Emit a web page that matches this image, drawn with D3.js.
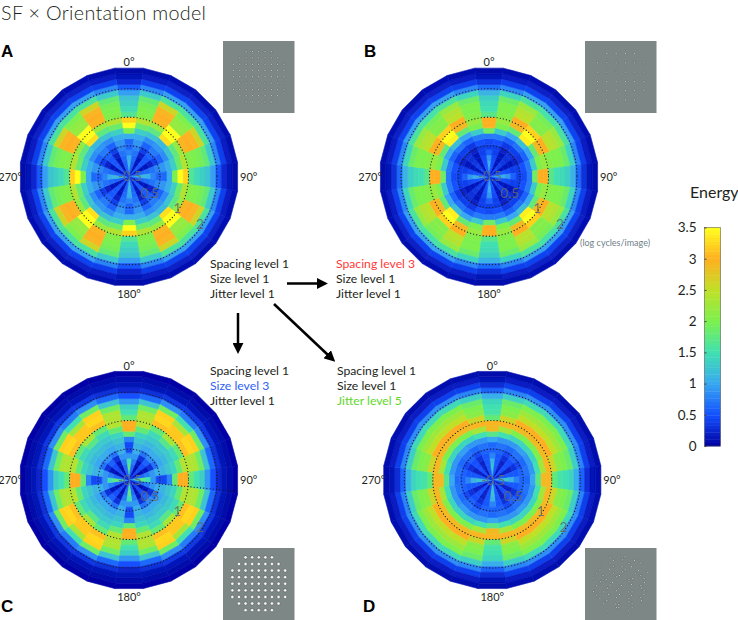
<!DOCTYPE html>
<html>
<head>
<meta charset="utf-8">
<script src="https://cdnjs.cloudflare.com/ajax/libs/d3/7.8.5/d3.min.js"></script>
<style>
  html, body { margin: 0; padding: 0; background: #fff; }
  svg { display: block; }
  text { font-family: "Lato", "Open Sans", sans-serif; fill: #231f20; }
  .angle { font-size: 11px; }
  .level { font-size: 12.2px; }
  .radial { font-size: 13.5px; fill: #5f6b70; opacity: 0.85; }
  .letter { font-size: 17px; font-weight: 700; fill: #000; font-family: "Liberation Sans", sans-serif; }
</style>
</head>
<body>
<div id="graphic"></div>
<script>
var width = 738;
var height = 620;

// energy per ring (centre to edge), for orientations 0, 15, 30, 45 deg from the nearest cardinal
var panelA = [
  [0.9, 1.1, 1.15, 1.05, 0.8, 0.6, 0.65, 1.05, 2.0, 3.5, 3.2, 1.65, 1.45, 1.35, 1.25, 0.95, 0.55, 0.25, 0.12, 0.06],
  [0.6, 0.6, 0.6, 0.65, 0.7, 0.8, 0.9, 1.05, 1.35, 1.85, 2.4, 2.05, 2.0, 1.95, 1.8, 1.3, 0.8, 0.4, 0.18, 0.08],
  [0.15, 0.15, 0.15, 0.15, 0.2, 0.4, 0.6, 0.85, 1.25, 1.75, 2.2, 2.95, 3.0, 2.95, 2.6, 1.6, 0.95, 0.42, 0.2, 0.1],
  [0.55, 0.55, 0.55, 0.55, 0.55, 0.6, 0.75, 0.9, 1.15, 3.3, 3.5, 3.5, 2.2, 2.15, 2.0, 1.6, 0.95, 0.42, 0.2, 0.08]
];
var panelB = [
  [0.9, 1.0, 1.05, 0.9, 0.6, 0.4, 0.45, 0.75, 1.9, 3.0, 3.0, 1.7, 1.5, 1.45, 1.35, 1.1, 0.65, 0.3, 0.12, 0.06],
  [0.55, 0.55, 0.5, 0.45, 0.4, 0.4, 0.5, 0.75, 1.3, 2.0, 2.2, 2.05, 2.0, 2.0, 1.85, 1.4, 0.8, 0.4, 0.18, 0.08],
  [0.15, 0.15, 0.15, 0.15, 0.15, 0.2, 0.35, 0.6, 1.0, 1.8, 2.9, 3.0, 2.45, 2.4, 2.2, 1.6, 0.95, 0.42, 0.2, 0.1],
  [0.45, 0.45, 0.4, 0.35, 0.3, 0.3, 0.4, 0.7, 1.2, 3.4, 3.5, 3.2, 2.05, 2.05, 1.95, 1.55, 0.95, 0.42, 0.2, 0.08]
];
var panelC = [
  [1.0, 1.6, 1.75, 1.5, 0.9, 0.45, 0.45, 0.8, 1.8, 3.0, 3.0, 1.8, 1.5, 1.35, 0.9, 0.5, 0.25, 0.12, 0.06, 0.03],
  [0.55, 0.6, 0.65, 0.75, 0.9, 1.05, 1.1, 1.25, 1.4, 1.8, 2.4, 2.4, 2.35, 1.9, 1.25, 0.65, 0.3, 0.12, 0.06, 0.03],
  [0.1, 0.1, 0.1, 0.15, 0.3, 0.7, 1.0, 1.15, 1.3, 1.45, 1.8, 3.1, 3.25, 3.2, 1.9, 0.85, 0.35, 0.14, 0.06, 0.03],
  [0.45, 0.45, 0.45, 0.5, 0.6, 0.85, 1.05, 1.2, 1.3, 1.7, 2.3, 3.15, 3.15, 2.3, 1.5, 0.75, 0.35, 0.14, 0.06, 0.03]
];
var panelD = [
  [1.0, 1.2, 1.25, 1.1, 0.8, 0.6, 0.65, 1.0, 1.7, 2.9, 2.95, 1.8, 1.55, 1.5, 1.4, 1.05, 0.6, 0.28, 0.12, 0.06],
  [0.55, 0.55, 0.55, 0.55, 0.55, 0.6, 0.7, 0.9, 1.5, 2.3, 2.95, 2.6, 2.1, 2.0, 1.85, 1.35, 0.8, 0.4, 0.18, 0.08],
  [0.15, 0.15, 0.2, 0.2, 0.3, 0.45, 0.65, 0.9, 1.4, 2.0, 2.9, 3.0, 2.5, 2.25, 2.0, 1.45, 0.85, 0.4, 0.18, 0.08],
  [0.5, 0.5, 0.5, 0.5, 0.5, 0.6, 0.7, 0.95, 1.4, 2.0, 2.9, 3.0, 2.5, 2.25, 2.0, 1.45, 0.85, 0.4, 0.18, 0.08]
];

var angleLabels = ["0°", "90°", "180°", "270°"];
var radialTicks = [0.5, 1, 2];
var energyTicks = [0, 0.5, 1, 1.5, 2, 2.5, 3, 3.5];
var colorStops = ["#0000a0", "#1450ff", "#38a8f0", "#40e0b0", "#7cf04e", "#c0e028", "#ffb020", "#ffff1e"];

// stimulus dots per row
var rowsDense = [5, 7, 9, 9, 9, 9, 9, 7, 5];
var rowsSparse = [4, 6, 6, 6, 6, 4];
// dot offsets of the jittered stimulus, in grid units
var jitterD = [
  [0.3, -0.2], [-0.2, 0.3], [0.3, 0.2], [-0.3, -0.3], [0.2, 0.3],
  [-0.3, 0.2], [0.3, -0.3], [-0.2, 0.2], [0.2, 0.3], [0.3, -0.2], [-0.3, 0.3], [0.2, -0.3],
  [0.2, 0.3], [-0.3, -0.2], [0.2, -0.3], [-0.2, 0.3], [0.3, 0.1], [-0.3, -0.3], [0.3, 0.3], [-0.2, -0.1], [0.3, 0.2],
  [-0.3, 0.1], [0.2, -0.3], [-0.3, 0.3], [0.3, -0.1], [-0.2, -0.3], [0.3, 0.3], [-0.1, 0.2], [0.2, -0.3], [-0.3, 0.2],
  [0.2, 0.3], [-0.2, -0.3], [0.3, 0.2], [-0.3, -0.2], [0.1, 0.3], [0.3, -0.3], [-0.3, 0.1], [0.2, 0.3], [-0.2, -0.2],
  [-0.3, 0.2], [0.3, 0.3], [-0.1, -0.3], [0.3, 0.1], [-0.3, -0.2], [0.2, 0.3], [-0.2, 0.3], [0.3, -0.3], [-0.3, 0.1],
  [0.2, -0.2], [-0.3, 0.3], [0.1, -0.3], [0.3, 0.2], [-0.2, -0.3], [0.3, 0.3], [-0.3, -0.1], [0.2, 0.2], [-0.3, -0.3],
  [0.3, 0.2], [-0.2, -0.3], [0.2, 0.2], [-0.3, 0.3], [0.3, -0.2], [-0.2, 0.1], [0.3, -0.3],
  [-0.2, 0.3], [0.3, -0.2], [-0.3, -0.2], [0.2, 0.3], [-0.2, -0.3]
];

var panels = [
  { letter: "A", values: panelA, cx: 129, cy: 176.7, lx: 1, ly: 57, sx: 223, sy: 41, rows: rowsDense, step: 6.3, dot: 0.9, dotFill: "#dfe3e3" },
  { letter: "B", values: panelB, cx: 489, cy: 176.7, lx: 364, ly: 57, sx: 585, sy: 41, rows: rowsSparse, step: 9.3, dot: 0.9, dotFill: "#dfe3e3" },
  { letter: "C", values: panelC, cx: 129, cy: 480, lx: 1, ly: 612, sx: 223, sy: 548, rows: rowsDense, step: 6.6, dot: 1.7, dotFill: "#f4f4f4" },
  { letter: "D", values: panelD, cx: 492.3, cy: 480, lx: 363, ly: 612, sx: 585, sy: 548, rows: rowsDense, step: 6.3, dot: 0.9, dotFill: "#dfe3e3", jitter: jitterD }
];

var outerRadius = 109.5;
var ringCount = panelA[0].length;
var sectorCount = 24;
var sectorStep = 2 * Math.PI / sectorCount;

var ringScale = d3.scaleLinear().domain([0, ringCount]).range([0, outerRadius]);
var sfScale = d3.scaleLog().base(2).domain([0.5, 2]).range([31, 88]);
var colorScale = d3.scaleLinear()
  .domain(energyTicks)
  .range(colorStops)
  .clamp(true);

var svg = d3.select("#graphic").append("svg")
  .attr("width", width)
  .attr("height", height);

var defs = svg.append("defs");
defs.append("filter")
  .attr("id", "soft")
  .attr("x", "-5%").attr("y", "-5%").attr("width", "110%").attr("height", "110%")
  .append("feGaussianBlur")
  .attr("stdDeviation", 0.7);
defs.append("filter")
  .attr("id", "softer")
  .append("feGaussianBlur")
  .attr("stdDeviation", 0.35);

function polar(r, a) {
  return [r * Math.sin(a), -r * Math.cos(a)];
}

var closedLine = d3.line().curve(d3.curveLinearClosed);

function cellPath(ring, sector) {
  var r0 = ringScale(ring);
  var r1 = ringScale(ring + 1);
  var a0 = (sector - 0.5) * sectorStep;
  var a1 = (sector + 0.5) * sectorStep;
  return closedLine([polar(r0, a0), polar(r1, a0), polar(r1, a1), polar(r0, a1)]);
}

function foldSector(sector) {
  var k = sector % 6;
  return Math.min(k, 6 - k);
}

function renderPolar(p) {
  var g = svg.append("g").attr("transform", "translate(" + p.cx + "," + p.cy + ")");
  var cells = g.append("g").attr("filter", "url(#soft)");

  d3.range(sectorCount).forEach(function(sector) {
    var profile = p.values[foldSector(sector)];
    cells.append("g").selectAll("path")
      .data(profile)
      .join("path")
      .attr("d", function(d, i) { return cellPath(i, sector); })
      .attr("fill", function(d) { return colorScale(d); })
      .attr("stroke", function(d) { return colorScale(d); })
      .attr("stroke-width", 0.6);
  });

  g.selectAll("circle.sf")
    .data(radialTicks)
    .join("circle")
    .attr("class", "sf")
    .attr("r", function(d) { return sfScale(d); })
    .attr("fill", "none")
    .attr("stroke", "#1c1c1c")
    .attr("stroke-width", 1.2)
    .attr("stroke-linecap", "round")
    .attr("stroke-dasharray", "0.1 3.1");

  g.append("text").attr("class", "radial").attr("text-anchor", "middle").attr("x", 1).attr("y", 4.5).text("-0.5");
  g.append("text").attr("class", "radial").attr("text-anchor", "middle").attr("x", 21).attr("y", 21).text("0.5");
  g.append("text").attr("class", "radial").attr("text-anchor", "middle").attr("x", 48.5).attr("y", 36).text("1");
  g.append("text").attr("class", "radial").attr("text-anchor", "middle").attr("x", 71).attr("y", 52).text("2");

  g.append("text").attr("class", "angle").attr("text-anchor", "middle").attr("x", 0).attr("y", -110.5).text(angleLabels[0]);
  g.append("text").attr("class", "angle").attr("text-anchor", "start").attr("x", 111).attr("y", 4).text(angleLabels[1]);
  g.append("text").attr("class", "angle").attr("text-anchor", "middle").attr("x", 0).attr("y", 121).text(angleLabels[2]);
  g.append("text").attr("class", "angle").attr("text-anchor", "end").attr("x", -107).attr("y", 4).text(angleLabels[3]);

  svg.append("text").attr("class", "letter").attr("x", p.lx).attr("y", p.ly).text(p.letter);
}

function renderStimulus(p) {
  var size = 71.5;
  var g = svg.append("g").attr("transform", "translate(" + p.sx + "," + p.sy + ")");
  g.append("rect").attr("width", size).attr("height", size + 0.5).attr("fill", "#7d8785");

  var dots = [];
  p.rows.forEach(function(n, row) {
    d3.range(n).forEach(function(col) {
      dots.push({ x: col - (n - 1) / 2, y: row - (p.rows.length - 1) / 2 });
    });
  });
  var grid = d3.scaleLinear().domain([0, 1]).range([size / 2, size / 2 + p.step]);

  g.append("g").attr("filter", "url(#softer)").selectAll("circle")
    .data(dots)
    .join("circle")
    .attr("cx", function(d, i) { return grid(d.x + (p.jitter ? p.jitter[i][0] : 0)); })
    .attr("cy", function(d, i) { return grid(d.y + (p.jitter ? p.jitter[i][1] : 0)); })
    .attr("r", p.dot)
    .attr("fill", p.dotFill)
    .attr("stroke", "#4b4f50")
    .attr("stroke-width", 0.5);
}

function renderBlockText(x, y, lines, colors) {
  svg.append("g").selectAll("text")
    .data(lines)
    .join("text")
    .attr("class", "level")
    .attr("x", x)
    .attr("y", function(d, i) { return y + i * 15; })
    .style("fill", function(d, i) { return colors[i]; })
    .text(function(d) { return d; });
}

function renderArrows() {
  defs.append("marker")
    .attr("id", "head")
    .attr("viewBox", "0 0 10 10")
    .attr("refX", 1)
    .attr("refY", 5)
    .attr("markerWidth", 4.4)
    .attr("markerHeight", 4.4)
    .attr("orient", "auto")
    .append("path")
    .attr("d", "M0,0L10,5L0,10Z")
    .attr("fill", "#000");

  var arrows = [[287, 283.5, 318, 283.5], [238, 313, 238, 344], [274, 304, 328, 355]];
  svg.selectAll("line.arrow")
    .data(arrows)
    .join("line")
    .attr("class", "arrow")
    .attr("x1", function(d) { return d[0]; })
    .attr("y1", function(d) { return d[1]; })
    .attr("x2", function(d) { return d[2]; })
    .attr("y2", function(d) { return d[3]; })
    .attr("stroke", "#000")
    .attr("stroke-width", 2.5)
    .attr("marker-end", "url(#head)");
}

function renderColorbar() {
  var barX = 704.5;
  var barW = 16;
  var y = d3.scaleLinear().domain([0, 3.5]).range([446, 227.5]);
  var steps = d3.range(0, 3.5, 3.5 / 64);

  svg.append("g").selectAll("rect")
    .data(steps)
    .join("rect")
    .attr("x", barX)
    .attr("width", barW)
    .attr("y", function(d) { return y(d + 3.5 / 64); })
    .attr("height", function() { return y(0) - y(3.5 / 64) + 0.4; })
    .attr("fill", function(d) { return colorScale(d + 1.75 / 64); });

  svg.append("rect")
    .attr("x", barX).attr("y", y(3.5))
    .attr("width", barW).attr("height", y(0) - y(3.5))
    .attr("fill", "none")
    .attr("stroke", "#444")
    .attr("stroke-width", 0.5);

  var axis = d3.axisLeft(y)
    .tickValues(energyTicks)
    .tickFormat(function(d) { return d; })
    .tickSize(-2)
    .tickPadding(8);

  var ag = svg.append("g")
    .attr("transform", "translate(" + barX + ",0)")
    .call(axis);
  ag.select(".domain").remove();
  ag.selectAll("text").style("font-family", "Lato, sans-serif").style("font-size", "13.5px").style("fill", "#231f20");
  ag.selectAll("line").attr("stroke", "#444");

  svg.append("text").attr("x", 690).attr("y", 198).style("font-size", "16px").text("Energy");
}

svg.append("text").attr("x", 1).attr("y", 19.5).style("font-size", "19.8px").style("letter-spacing", "0.3px").style("font-weight", 300).text("SF × Orientation model");

panels.forEach(renderPolar);
panels.forEach(renderStimulus);

// stray radial guide in panel C
var guideR = d3.scaleLinear().domain([0, 1]).range([0, outerRadius]);
svg.append("line")
  .attr("x1", 129 + guideR(0.1)).attr("y1", 482)
  .attr("x2", 129 + guideR(1)).attr("y2", 491.5)
  .attr("stroke", "#1c1c1c")
  .attr("stroke-width", 1.1)
  .attr("stroke-linecap", "round")
  .attr("stroke-dasharray", "0.1 3.1");

var black = "#231f20";
renderBlockText(210, 268, ["Spacing level 1", "Size level 1", "Jitter level 1"], [black, black, black]);
renderBlockText(336, 268, ["Spacing level 3", "Size level 1", "Jitter level 1"], ["#ff3a3a", black, black]);
renderBlockText(210, 375, ["Spacing level 1", "Size level 3", "Jitter level 1"], [black, "#2f5ff5", black]);
renderBlockText(337, 375, ["Spacing level 1", "Size level 1", "Jitter level 5"], [black, black, "#5fd62c"]);

svg.append("text").attr("x", 580).attr("y", 246).style("font-size", "9px").style("fill", "#6f7f88").text("(log cycles/image)");

renderArrows();
renderColorbar();
</script>
</body>
</html>
